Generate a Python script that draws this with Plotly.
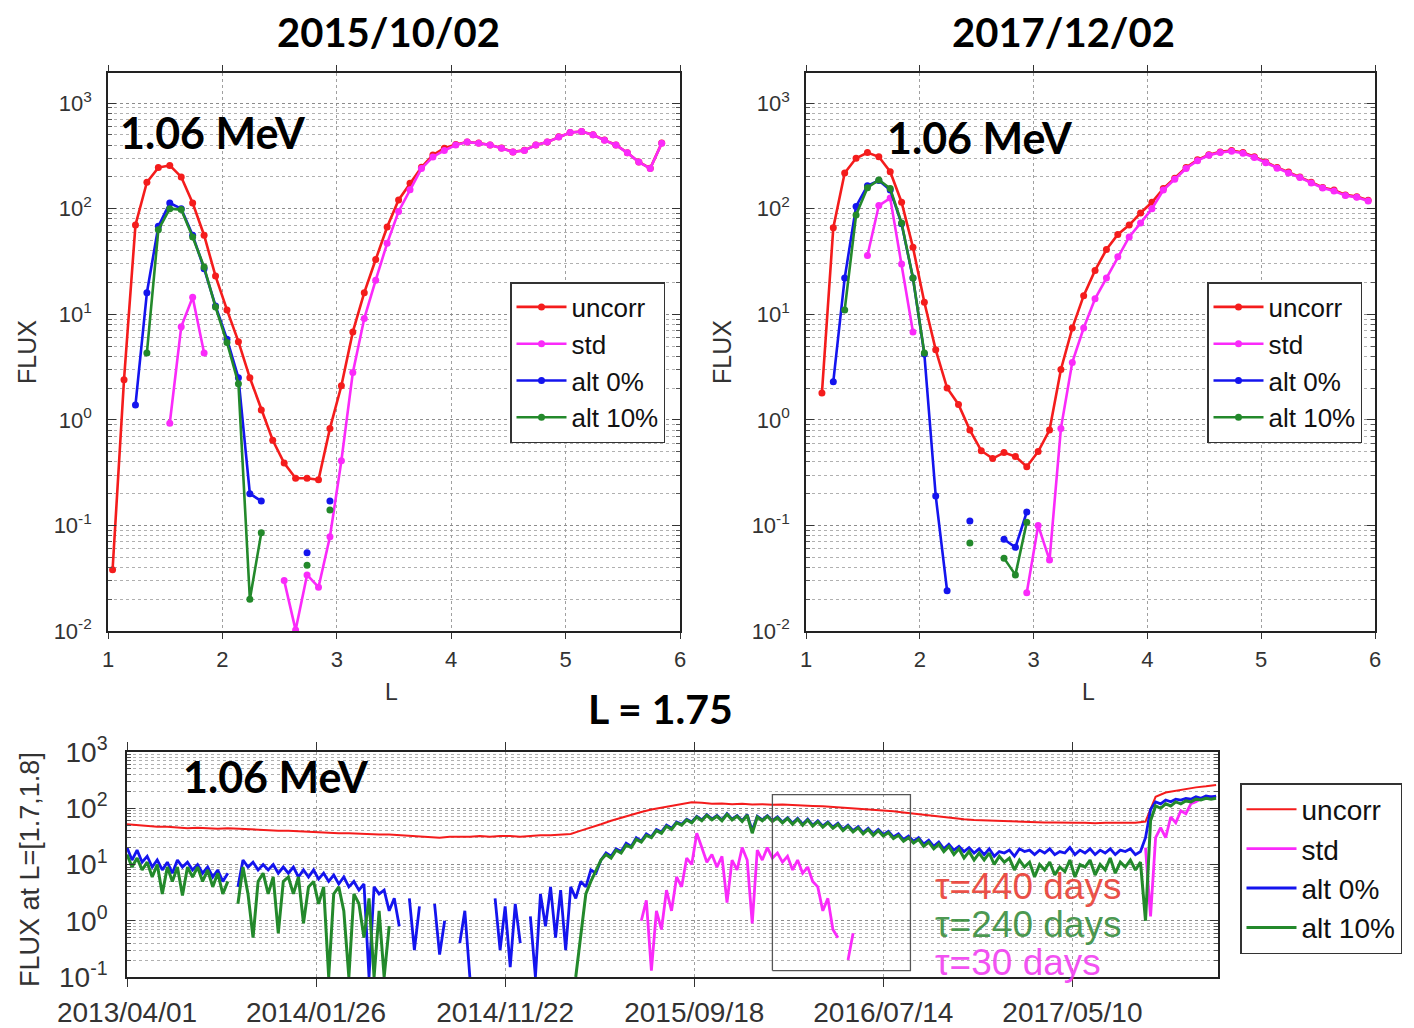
import pandas as pd
import plotly.graph_objects as go

W, H = 1414, 1028

# ---------------------------------------------------------------- L profiles
L_GRID = [1.04, 1.14, 1.24, 1.34, 1.44, 1.54, 1.64, 1.74, 1.84, 1.94,
          2.04, 2.14, 2.24, 2.34, 2.44, 2.54, 2.64, 2.74, 2.84, 2.94,
          3.04, 3.14, 3.24, 3.34, 3.44, 3.54, 3.64, 3.74, 3.84, 3.94,
          4.04, 4.14, 4.24, 4.34, 4.44, 4.54, 4.64, 4.74, 4.84, 4.94,
          5.04, 5.14, 5.24, 5.34, 5.44, 5.54, 5.64, 5.74, 5.84, 5.94]

N = None

# 2015/10/02
UNCORR_A = [0.038, 2.4, 70, 178, 245, 257, 200, 113, 56, 23,
            11, 5.5, 2.5, 1.24, 0.64, 0.39, 0.28, 0.28, 0.27, 0.83,
            2.1, 6.8, 16, 33, 67, 121, 174, 247, 322, 374,
            405, 428, 418, 401, 375, 345, 357, 401, 428, 479,
            527, 538, 501, 446, 401, 339, 277, 241, 418, N]
STD_A = [N, N, N, N, N, 0.93, 7.6, 14.5, 4.3, N,
         N, N, N, N, N, 0.030, 0.0102, 0.034, 0.026, 0.078,
         0.41, 2.8, 9.1, 21, 47, 94, 151, 240, 309, 356,
         400, 427, 417, 400, 374, 344, 356, 400, 427, 478,
         526, 537, 500, 445, 400, 338, 276, 240, 417, N]
ALT0_A = [N, N, 1.38, 16, 68, 113, 100, 56, 27, 12,
          5.8, 2.5, 0.20, 0.17, N, N, N, 0.055, N, 0.17,
          N, N, N, N, N, N, N, N, N, N,
          N, N, N, N, N, N, N, N, N, N,
          N, N, N, N, N, N, N, N, N, N]
ALT10_A = [N, N, N, 4.3, 63, 100, 98, 54, 28, 11.7,
           5.4, 2.2, 0.020, 0.085, N, N, N, 0.042, N, 0.14,
           N, N, N, N, N, N, N, N, N, N,
           N, N, N, N, N, N, N, N, N, N,
           N, N, N, N, N, N, N, N, N, N]

# 2017/12/02
UNCORR_B = [N, 1.8, 66, 218, 300, 340, 310, 224, 115, 43,
            13, 4.6, 2.0, 1.4, 0.8, 0.51, 0.43, 0.49, 0.45, 0.36,
            0.50, 0.8, 3.0, 7.4, 15, 26, 41, 57, 70, 91,
            115, 155, 194, 245, 290, 325, 345, 355, 340, 310,
            277, 245, 222, 200, 178, 159, 150, 135, 130, 120]
STD_B = [N, N, N, N, N, 36, 107, 126, 30, 6.8,
         N, N, N, N, N, N, N, N, N, 0.023,
         0.10, 0.047, 0.83, 3.5, 7.4, 14, 22, 35, 54, 73,
         100, 150, 190, 240, 285, 320, 340, 350, 335, 305,
         272, 242, 218, 197, 175, 157, 147, 133, 128, 118]
ALT0_B = [N, N, 2.3, 22, 105, 165, 185, 150, 72, 22,
          4.2, 0.19, 0.024, N, 0.11, N, N, 0.074, 0.062, 0.134,
          N, N, N, N, N, N, N, N, N, N,
          N, N, N, N, N, N, N, N, N, N,
          N, N, N, N, N, N, N, N, N, N]
ALT10_B = [N, N, N, 11, 87, 158, 187, 155, 73, 22,
           4.3, N, N, N, 0.068, N, N, 0.049, 0.034, 0.107,
           N, N, N, N, N, N, N, N, N, N,
           N, N, N, N, N, N, N, N, N, N,
           N, N, N, N, N, N, N, N, N, N]

# ------------------------------------------------------- time series, L=1.75
T0 = "2013-04-01"
STEP = 8          # days between samples of the alt / std series
STEP_UNCORR = 16  # days between samples of the uncorr series
STD_START_1 = 102  # first sample index of each std segment
STD_START_2 = 202

UNCORR_T = [52, 50, 49, 47, 47, 45, 44, 45, 44, 43,
            44, 43, 42, 42, 41, 40, 40, 39, 38, 38,
            37, 36, 36, 35, 35, 34, 34, 33, 33, 32,
            31, 30, 31, 31, 31, 32, 31, 32, 32, 31,
            32, 33, 33, 34, 35, 40, 45, 52, 60, 68,
            78, 86, 95, 103, 110, 118, 128, 125, 120, 122,
            118, 120, 117, 118, 115, 116, 113, 112, 110, 108,
            105, 100, 98, 96, 94, 92, 88, 84, 80, 76,
            72, 69, 66, 64, 62, 61, 60, 59, 58, 57,
            57, 56, 56, 55, 55, 55, 54, 55, 55, 54,
            55, 58, 160, 190, 205, 215, 235, 245, 260]

ALT0_T = [20, 12, 18, 11, 14, 9, 12, 8, 11, 7,
          12, 9, 11, 8, 10, 7, 9, 6, 8, 5,
          7, N, 4, 12, 9, 11, 8, 10, 8, 10,
          7, 9, 7, 9, 6, 8, 6, 8, 5.5, 7,
          5, 6.5, 4.5, 6, 4, 5, 3.5, 4.5, 0.1, 4,
          3, 3.5, 1.5, 2.5, 0.8, N, 2.5, 0.3, 1.8, N,
          N, 2.0, 0.25, 1.0, N, N, 0.4, 1.5, 0.1, N,
          0.6, N, N, 2.5, 0.3, 1.8, 0.15, 2.0, 0.4, N,
          1.2, 0.1, 3.0, 0.8, 4.0, 0.5, 3.5, 0.3, 4.0, 2.5,
          5, 4, 8, 7, 12, 16, 14, 19, 17, 24,
          21, 30, 26, 35, 31, 42, 38, 50, 44, 57,
          52, 64, 57, 72, 62, 77, 64, 74, 62, 80,
          64, 74, 60, 77, 40, 72, 62, 74, 60, 70,
          57, 68, 54, 66, 52, 64, 50, 60, 48, 57,
          46, 54, 42, 50, 40, 47, 37, 44, 35, 42,
          34, 39, 31, 35, 28, 32, 26, 30, 23, 27,
          21, 25, 19, 23, 18, 21, 17, 20, 16, 19,
          15, 19, 14, 17, 16, 18, 14, 19, 17, 18,
          15, 18, 16, 19, 15, 17, 16, 20, 15, 18,
          16, 19, 15, 18, 16, 19, 15, 18, 17, 19,
          15, 17, 30, 95, 130, 120, 140, 130, 145, 140,
          150, 145, 160, 150, 165, 160, 165]

ALT10_T = [15, 9, 13, 8, 11, 6, 10, 3, 9, 5,
           9, 2.8, 9, 6, 9, 5, 8, 4, 7, 3,
           5, N, 2, 9, 3, 0.5, 5, 7, 3, 6,
           0.6, 5, 6, 3, 6, 0.9, 4, 5, 2, 4,
           0.1, 3, 4, 1.5, 0.1, 3, 2, 0.5, 2.5, 0.1,
           1.5, 0.1, 0.8, N, N, N, N, N, N, N,
           N, N, N, N, N, N, N, N, N, N,
           N, N, N, N, N, N, N, N, N, N,
           N, N, N, N, N, N, N, N, N, 0.1,
           0.5, 3, 5, 8, 12, 15, 13, 18, 16, 22,
           20, 28, 25, 33, 30, 40, 36, 48, 42, 55,
           50, 62, 55, 70, 60, 75, 62, 72, 60, 78,
           62, 72, 58, 75, 36, 70, 60, 72, 58, 68,
           55, 66, 52, 64, 50, 62, 48, 58, 46, 55,
           44, 52, 40, 48, 38, 45, 35, 42, 33, 40,
           32, 37, 29, 33, 26, 30, 24, 28, 21, 25,
           19, 23, 17, 21, 15, 19, 13, 17, 12, 16,
           12, 16, 10, 14, 11, 13, 8, 12, 9, 11,
           6, 10, 8, 11, 6.5, 9, 7.5, 12, 6, 10,
           9, 12, 6.5, 10, 8, 13, 7, 11, 9, 12,
           8, 11, 1.0, 60, 110, 100, 120, 110, 130, 120,
           135, 130, 145, 140, 150, 145, 150]

STD_T1 = [1.0, 2.3, 0.13, 1.5, 0.7, 3.5, 1.5, 6, 4, 13,
          10, 36, 20, 11, 15, 9, 14, 2.1, 12, 8,
          20, 12, 0.9, 18, 12, 20, 13, 16, 11, 14,
          8, 12, 7, 9, 5, 4, 1.5, 2.5, 0.7, 0.5,
          N, 0.2, 0.6]
STD_T2 = [20, 1.2, 30, 45, 30, 70, 55, 90, 80, 120,
          130, 150, 155, 160, 155]

# period box drawn on the time series
BOX_DATES = ["2016-01-20", "2016-08-26"]
BOX_FLUX = [0.13, 175]

DATE_TICKS = ["2013-04-01", "2014-01-26", "2014-11-22",
              "2015-09-18", "2016-07-14", "2017-05-10"]
DATE_LABELS = ["2013/04/01", "2014/01/26", "2014/11/22",
               "2015/09/18", "2016/07/14", "2017/05/10"]
DATE_RANGE = ["2013-04-01", "2017-12-27"]

NAMES = ["uncorr", "std", "alt 0%", "alt 10%"]
COLORS = {"uncorr": "#f41c1c", "std": "#fa2afa",
          "alt 0%": "#1414ee", "alt 10%": "#23892b"}


def sample_dates(first_index, n, step):
    base = pd.Timestamp(T0)
    return [base + pd.Timedelta(days=(first_index + k) * step) for k in range(n)]


def px(x):
    return x / W


def py(y):
    return 1 - y / H


fig = go.Figure()

# ---- profile panels
for series, xa, ya, leg in [
    ((UNCORR_A, STD_A, ALT0_A, ALT10_A), "x", "y", "legend"),
    ((UNCORR_B, STD_B, ALT0_B, ALT10_B), "x2", "y2", "legend2"),
]:
    for name, vals in zip(NAMES, series):
        fig.add_trace(go.Scatter(
            x=L_GRID, y=vals, name=name, mode="lines+markers",
            line=dict(color=COLORS[name], width=2.6),
            marker=dict(color=COLORS[name], size=7),
            xaxis=xa, yaxis=ya, legend=leg, connectgaps=False,
        ))

# ---- time series panel
ts = {
    "uncorr": (sample_dates(0, len(UNCORR_T), STEP_UNCORR), UNCORR_T),
    "alt 0%": (sample_dates(0, len(ALT0_T), STEP), ALT0_T),
    "alt 10%": (sample_dates(0, len(ALT10_T), STEP), ALT10_T),
}
std_x = (sample_dates(STD_START_1, len(STD_T1), STEP) + [None]
         + sample_dates(STD_START_2, len(STD_T2), STEP))
std_y = STD_T1 + [None] + STD_T2
ts["std"] = (std_x, std_y)

TS_WIDTH = {"uncorr": 2.0, "std": 2.8, "alt 0%": 2.8, "alt 10%": 3.0}
for name in NAMES:
    xs, ys = ts[name]
    fig.add_trace(go.Scatter(
        x=xs, y=ys, name=name, mode="lines",
        line=dict(color=COLORS[name], width=TS_WIDTH[name]),
        xaxis="x3", yaxis="y3", legend="legend3", connectgaps=False,
    ))

fig.add_trace(go.Scatter(
    x=[BOX_DATES[0], BOX_DATES[1], BOX_DATES[1], BOX_DATES[0], BOX_DATES[0]],
    y=[BOX_FLUX[0], BOX_FLUX[0], BOX_FLUX[1], BOX_FLUX[1], BOX_FLUX[0]],
    mode="lines", line=dict(color="#555", width=1.3),
    xaxis="x3", yaxis="y3", showlegend=False, hoverinfo="skip",
))

# ---- axes
TICK_FONT = "Liberation Sans, Arial, sans-serif"
TEXT_COLOR = "#333"


def sup_labels(exps):
    return ["10<sup>%d</sup>" % e for e in exps]


def minor_vals(lo, hi):
    return [d * 10.0 ** e for e in range(lo, hi) for d in range(2, 10)]


def y_log(domain, exps, rng, size, standoff):
    return dict(
        type="log", domain=domain, range=rng,
        tickmode="array", tickvals=[10.0 ** e for e in exps],
        ticktext=sup_labels(exps),
        tickfont=dict(family=TICK_FONT, size=size, color=TEXT_COLOR),
        ticks="inside", ticklen=8, tickwidth=1.2, tickcolor="#333",
        ticklabelstandoff=standoff,
        showline=True, linecolor="#222", linewidth=1.6, mirror="ticks",
        showgrid=True, gridcolor="#8c8c8c", griddash="dot", gridwidth=1.2,
        minor=dict(tickmode="array", tickvals=minor_vals(exps[0], exps[-1]),
                   ticks="inside", ticklen=4, tickcolor="#555",
                   showgrid=True, gridcolor="#b0b0b0", griddash="dot",
                   gridwidth=1),
        zeroline=False,
    )


def x_lin(domain, anchor):
    return dict(
        domain=domain, range=[1, 6], anchor=anchor,
        tickmode="array", tickvals=[1, 2, 3, 4, 5, 6],
        tickfont=dict(family=TICK_FONT, size=22, color=TEXT_COLOR),
        ticks="outside", ticklen=6, tickwidth=1.2, tickcolor="#333",
        ticklabelstandoff=2,
        showline=True, linecolor="#222", linewidth=1.6, mirror="ticks",
        showgrid=True, gridcolor="#a0a0a0", griddash="dot", gridwidth=1,
        zeroline=False,
    )


TOP_Y = [py(631), py(73)]
EXP_TOP = [-2, -1, 0, 1, 2, 3]
EXP_BOTTOM = [-1, 0, 1, 2, 3]
fig.update_layout(
    xaxis=x_lin([px(108), px(680)], "y"),
    yaxis=y_log(TOP_Y, EXP_TOP, [-2, 3.285], 22, 10) | dict(anchor="x"),
    xaxis2=x_lin([px(806), px(1375)], "y2"),
    yaxis2=y_log(TOP_Y, EXP_TOP, [-2, 3.285], 22, 10) | dict(anchor="x2"),
    xaxis3=dict(
        domain=[px(127), px(1218)], anchor="y3", type="date", range=DATE_RANGE,
        tickmode="array", tickvals=DATE_TICKS, ticktext=DATE_LABELS,
        tickfont=dict(family=TICK_FONT, size=28, color=TEXT_COLOR),
        ticks="outside", ticklen=8, tickwidth=1.2, tickcolor="#333",
        ticklabelstandoff=2,
        showline=True, linecolor="#222", linewidth=1.6, mirror="ticks",
        showgrid=True, gridcolor="#a0a0a0", griddash="dot", gridwidth=1,
        zeroline=False,
    ),
    yaxis3=y_log([py(977), py(752)], EXP_BOTTOM, [-1, 3], 28, 12) | dict(anchor="x3"),
)

# ---- legends
LEG_FONT = dict(family=TICK_FONT, size=26, color="#111")
leg_common = dict(bgcolor="white", bordercolor="#333", borderwidth=1.5,
                  font=LEG_FONT, itemwidth=50, xanchor="left", yanchor="top",
                  tracegroupgap=0)
fig.update_layout(
    legend=dict(x=px(510), y=py(282), **leg_common),
    legend2=dict(x=px(1207), y=py(282), **leg_common),
    legend3=dict(x=px(1240), y=py(783),
                 **(leg_common | dict(font=dict(family=TICK_FONT, size=28, color="#111")))),
)

# ---- text
TITLE_FONT = dict(family="Lato, Open Sans, sans-serif", size=40, color="black", weight="bold")
MEV_FONT = dict(family="Lato, Open Sans, sans-serif", size=43, color="black", weight="bold")
LABEL_FONT = dict(family=TICK_FONT, size=25, color=TEXT_COLOR)


def text(x, y, s, font, xanchor="center", **kw):
    fig.add_annotation(x=px(x), y=py(y), xref="paper", yref="paper", text=s,
                       showarrow=False, font=font, xanchor=xanchor,
                       yanchor="middle", **kw)


text(388, 32, "2015/10/02", TITLE_FONT)
text(1063, 32, "2017/12/02", TITLE_FONT)
text(660, 708, "L = 1.75", TITLE_FONT | dict(size=41))
text(213, 133, "1.06 MeV", MEV_FONT)
text(980, 138, "1.06 MeV", MEV_FONT)
text(276, 776, "1.06 MeV", MEV_FONT)
text(27, 352, "FLUX", LABEL_FONT, textangle=-90)
text(722, 352, "FLUX", LABEL_FONT, textangle=-90)
text(391, 692, "L", LABEL_FONT | dict(size=23))
text(1088, 692, "L", LABEL_FONT | dict(size=23))
text(30, 870, "FLUX at L=[1.7,1.8]", LABEL_FONT | dict(size=27), textangle=-90)
TAU_FONT = dict(family=TICK_FONT, size=37)
text(933, 886, "τ=440 days", TAU_FONT | dict(color="rgba(232,50,40,0.85)"), xanchor="left")
text(933, 924, "τ=240 days", TAU_FONT | dict(color="rgba(45,135,50,0.85)"), xanchor="left")
text(933, 962, "τ=30 days", TAU_FONT | dict(color="rgba(240,50,240,0.85)"), xanchor="left")

fig.update_layout(
    width=W, height=H,
    margin=dict(l=0, r=0, t=0, b=0, autoexpand=False),
    paper_bgcolor="white", plot_bgcolor="white",
    hovermode=False,
)

fig.write_html("out.html")
